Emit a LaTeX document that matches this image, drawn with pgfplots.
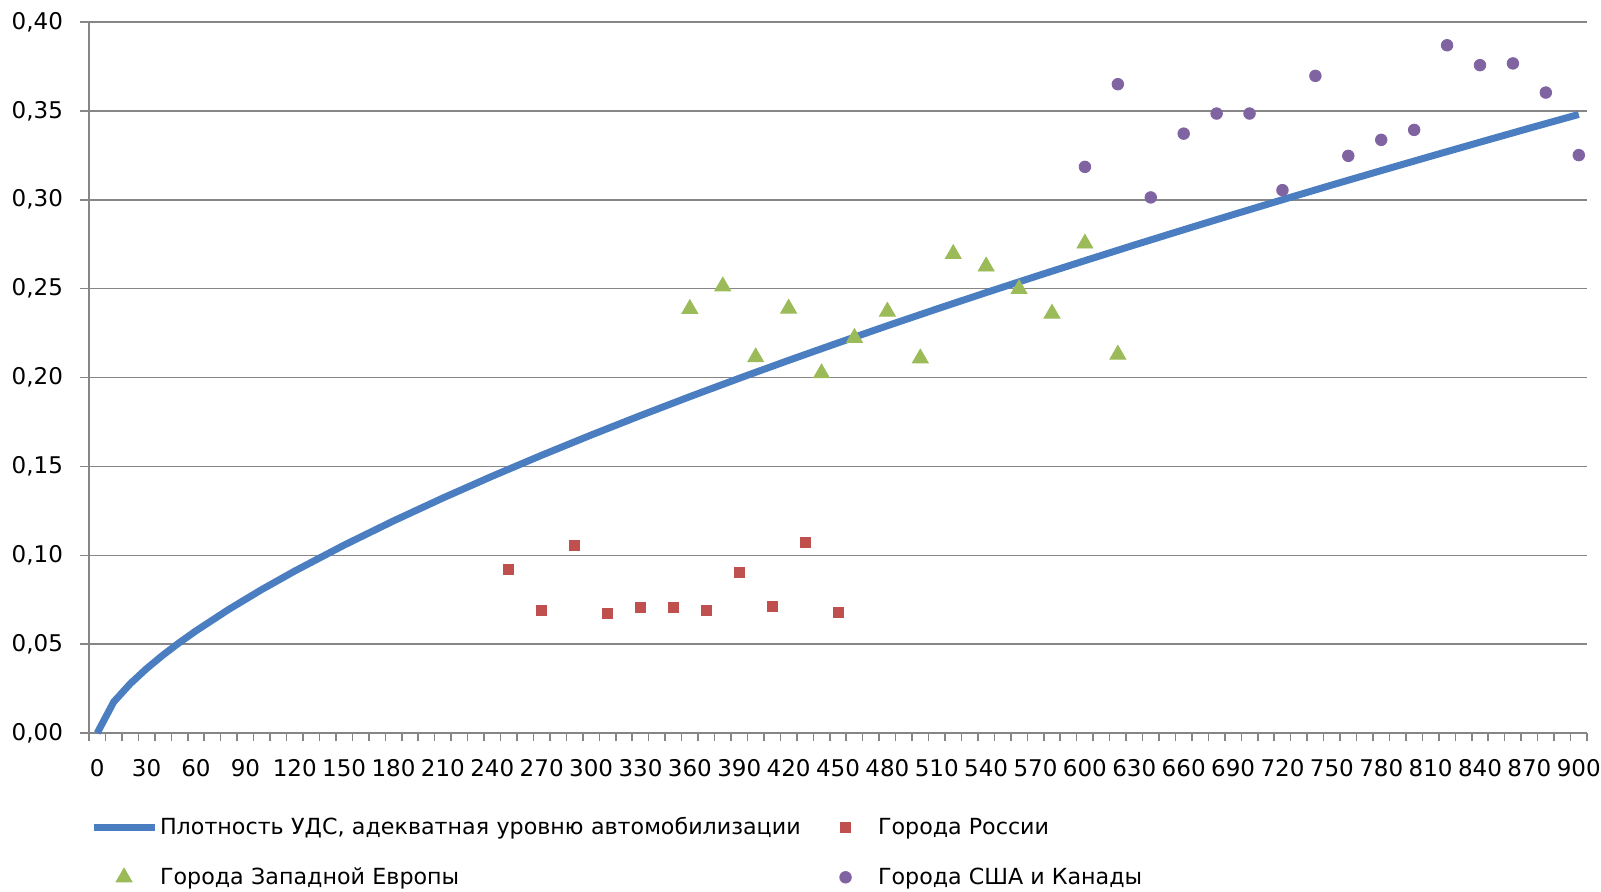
\documentclass[border=0pt]{standalone}
\usepackage{pgfplots}
\pgfplotsset{compat=1.18}
\usepackage{fontspec}
\setmainfont{DejaVu Sans}
\definecolor{lineblue}{RGB}{74,126,193}
\definecolor{rusred}{RGB}{192,80,77}
\definecolor{eugreen}{RGB}{155,187,89}
\definecolor{uspurple}{RGB}{128,100,162}
\definecolor{gridgray}{RGB}{134,134,134}
\pgfplotsset{mylegimg/.style={legend image code/.code={\path[draw=none,fill=none] (0bp,-3bp) rectangle (30.5bp,3bp); \draw[mark repeat=2,mark phase=2,#1] plot coordinates {(0bp,0bp) (15.25bp,0bp) (30.5bp,0bp)};}}}
\begin{document}
\begin{tikzpicture}
\useasboundingbox (-44.5bp,-79.5bp) rectangle (756bp,366.5bp);
\begin{axis}[
  width=749bp, height=355.5bp, scale only axis,
  xmin=-5, xmax=905, ymin=0, ymax=0.40,
  axis x line*=bottom, axis y line*=left,
  axis line style={draw=gridgray, line width=0.75bp},
  tick align=outside,
  xtick={0,30,...,900},
  minor xtick={-5,5,...,905},
  ytick={0,0.05,0.1,0.15,0.2,0.25,0.3,0.35,0.4},
  major tick length=4.5bp, minor tick length=4bp,
  major x tick style={draw=none},
  tick style={draw=gridgray, line width=0.75bp},
  ymajorgrids,
  major grid style={draw=gridgray, line width=0.75bp},
  /pgf/number format/assume math mode=true,
  yticklabel style={/pgf/number format/.cd, fixed, fixed zerofill, precision=2, use comma, /tikz/.cd, xshift=-5bp},
  xticklabel style={/pgf/number format/.cd, fixed, precision=0, 1000 sep={}, /tikz/.cd, yshift=-5bp},
  tick label style={font=\fontsize{11.5bp}{13bp}\selectfont, text=black},
  clip=false,
  legend columns=2,
  legend cell align=left,
  legend style={draw=none, fill=none, at={(axis description cs:0.0007,-0.1158)}, anchor=north west,
    inner sep=0pt, outer sep=0pt, font=\fontsize{11.1bp}{13bp}\selectfont,
    nodes={inner sep=1bp},
    row sep=12.9bp,
    /tikz/column 2/.style={text width=322bp, column sep=4.5bp}},
]
\addplot[color=lineblue, line width=3.5bp, mark=none, mylegimg]
  coordinates {
  (0,0) (10,0.01746) (20,0.02768) (30,0.03624) (40,0.04390) (50,0.05092)
  (60,0.05748) (80,0.06960) (100,0.08073) (120,0.09113) (150,0.10571)
  (180,0.11933) (210,0.13221) (240,0.14449) (270,0.15626) (300,0.16761)
  (330,0.17858) (360,0.18922) (390,0.19956) (420,0.20964) (450,0.21947)
  (480,0.22912) (510,0.23854) (540,0.24778) (570,0.25683) (600,0.26574)
  (630,0.27452) (660,0.28313) (690,0.29163) (720,0.30001) (750,0.30828)
  (780,0.31640) (810,0.32444) (840,0.33239) (870,0.34026) (900,0.348)
  };
\addlegendentry{Плотность УДС, адекватная уровню автомобилизации}
\addplot[only marks, mark=square*, mark size=2.5bp, color=rusred, mark options={draw=none, fill=rusred}, mylegimg]
  coordinates {
  (250,0.0921) (270,0.0689) (290,0.1056) (310,0.0672) (330,0.0704)
  (350,0.0704) (370,0.0689) (390,0.0901) (410,0.0715) (430,0.1071) (450,0.0678)
  };
\addlegendentry{Города России}
\addplot[only marks, mark=triangle*, mark size=4.6bp, color=eugreen, mark options={draw=none, fill=eugreen}, mylegimg]
  coordinates {
  (360,0.2386) (380,0.2513) (400,0.2114) (420,0.2388) (440,0.2024)
  (460,0.2223) (480,0.2371) (500,0.2108) (520,0.2695) (540,0.2625)
  (560,0.2498) (580,0.2360) (600,0.2754) (620,0.2129)
  };
\addlegendentry{Города Западной Европы}
\addplot[only marks, mark=*, mark size=2.9bp, color=uspurple, mark options={draw=none, fill=uspurple}, mylegimg]
  coordinates {
  (600,0.3185) (620,0.3650) (640,0.3013) (660,0.3372) (680,0.3485)
  (700,0.3485) (720,0.3054) (740,0.3697) (760,0.3247) (780,0.3337)
  (800,0.3393) (820,0.3869) (840,0.3757) (860,0.3767) (880,0.3603) (900,0.3251)
  };
\addlegendentry{Города США и Канады}
\end{axis}
\end{tikzpicture}
\end{document}
